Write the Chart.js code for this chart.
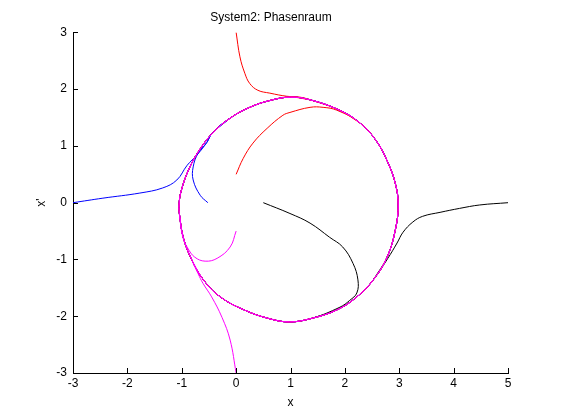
<!DOCTYPE html>
<html>
<head>
<meta charset="utf-8">
<script src="https://cdn.jsdelivr.net/npm/chart.js@4.4.1/dist/chart.umd.min.js"></script>
<style>
html,body{margin:0;padding:0;background:#fff;}
#wrap{width:561px;height:420px;}
</style>
</head>
<body>
<div id="wrap"><canvas id="c" width="561" height="420"></canvas></div>
<script>
// Limit cycle, clockwise
const cycleX = [-1.05,-1.01,-0.86,-0.66,-0.42,-0.11,0.25,0.62,1.00,1.37,1.90,2.27,2.57,2.79,2.93,2.98,2.93,2.78,2.53,2.22,1.85,1.38,0.98,0.60,0.15,-0.29,-0.60,-0.81,-0.97,-1.04];
const cycleY = [-0.04,0.21,0.61,0.95,1.24,1.49,1.68,1.80,1.86,1.81,1.63,1.41,1.10,0.71,0.33,-0.04,-0.47,-0.95,-1.35,-1.66,-1.89,-2.04,-2.10,-2.04,-1.89,-1.66,-1.36,-1.02,-0.62,-0.22];

// Trajectories approaching the cycle
const red1X = [0.00,0.07,0.16,0.25,0.40,0.62,0.93,1.17];
const red1Y = [3.00,2.57,2.28,2.10,1.98,1.93,1.875,1.86];
const red2X = [0.00,0.13,0.31,0.57,0.86,0.99,1.36,1.60,1.85];
const red2Y = [0.50,0.78,1.05,1.31,1.54,1.59,1.68,1.68,1.63];
const blue1X = [-3.00,-2.45,-1.77,-1.35,-1.09,-0.90,-0.72,-0.54,-0.43];
const blue1Y = [0.00,0.08,0.17,0.26,0.40,0.66,0.84,1.06,1.24];
const blue2X = [-0.52,-0.66,-0.79,-0.79,-0.70,-0.54,-0.43];
const blue2Y = [0.00,0.13,0.40,0.63,0.87,1.06,1.24];
const mag1X = [0.00,-0.11,-0.35,-0.57,-0.76,-0.89,-0.98];
const mag1Y = [-0.50,-0.78,-0.98,-1.03,-0.96,-0.80,-0.61];
const mag2X = [0.00,-0.11,-0.26,-0.45,-0.61,-0.70];
const mag2Y = [-3.00,-2.42,-2.02,-1.66,-1.42,-1.25];
const blk1X = [5.00,4.48,4.11,3.75,3.43,3.25,3.07,2.96,2.79];
const blk1Y = [0.00,-0.04,-0.10,-0.17,-0.24,-0.34,-0.52,-0.71,-0.98];
const blk2X = [0.50,0.99,1.36,1.72,1.96,2.15,2.24,2.22,2.09,1.91];
const blk2Y = [0.00,-0.19,-0.36,-0.61,-0.78,-1.07,-1.36,-1.59,-1.72,-1.84];

const xTicks = [-3,-2,-1,0,1,2,3,4,5];
const yTicks = [-3,-2,-1,0,1,2,3];

function traj(xs, ys) {
  const pts = xs.map((x, i) => ({x: x, y: ys[i]}));
  const last = pts[pts.length - 1];
  let best = 0, bd = 1e9;
  for (let i = 0; i < cycleX.length; i++) {
    const d = (cycleX[i]-last.x)**2 + (cycleY[i]-last.y)**2;
    if (d < bd) { bd = d; best = i; }
  }
  const n = cycleX.length;
  for (let k = 1; k <= n + 1; k++) {
    const j = (best + k) % n;
    pts.push({x: cycleX[j], y: cycleY[j]});
  }
  return pts;
}
function ds(xs, ys, color) {
  return {data: traj(xs, ys), borderColor: color, borderWidth: 1, pointRadius: 0,
          showLine: true, tension: 0.4, fill: false};
}

const tickPlugin = {
  id: 'inTicks',
  afterDraw(chart) {
    const ctx = chart.ctx, xs = chart.scales.x, ys = chart.scales.y;
    const a = chart.chartArea;
    ctx.save();
    ctx.strokeStyle = '#000';
    ctx.lineWidth = 1;
    ctx.beginPath();
    xTicks.forEach(v => {
      const p = Math.round(xs.getPixelForValue(v)) + 0.5;
      ctx.moveTo(p, a.bottom); ctx.lineTo(p, a.bottom - 5);
    });
    yTicks.forEach(v => {
      const p = Math.round(ys.getPixelForValue(v)) + 0.5;
      ctx.moveTo(a.left, p); ctx.lineTo(a.left + 5, p);
    });
    ctx.stroke();
    ctx.restore();
  }
};

const font = {family: '"Liberation Sans", Arial, sans-serif', size: 12, weight: 'normal'};

new Chart(document.getElementById('c'), {
  type: 'scatter',
  data: {
    datasets: [
      ds(mag1X, mag1Y, '#ff00ff'),
      ds(mag2X, mag2Y, '#ff00ff'),
      ds(red1X, red1Y, '#ff0000'),
      ds(red2X, red2Y, '#ff0000'),
      ds(blue1X, blue1Y, '#0000ff'),
      ds(blue2X, blue2Y, '#0000ff'),
      ds(blk1X, blk1Y, '#000000'),
      ds(blk2X, blk2Y, '#000000')
    ]
  },
  options: {
    responsive: false,
    animation: false,
    layout: {padding: {left: 34, right: 53, top: 0, bottom: 0}},
    plugins: {
      legend: {display: false},
      tooltip: {enabled: false},
      title: {display: true, text: 'System2: Phasenraum', color: '#000', font: font,
              padding: {top: 10, bottom: 8}}
    },
    scales: {
      x: {
        type: 'linear', min: -3, max: 5,
        afterBuildTicks: s => { s.ticks = xTicks.map(v => ({value: v})); },
        afterFit: s => { s.height = 47; },
        ticks: {color: '#000', font: font, padding: 3, maxRotation: 0},
        grid: {drawOnChartArea: false, drawTicks: false, color: '#000'},
        border: {display: true, color: '#000', width: 1},
        title: {display: true, text: 'x', color: '#000', font: font, padding: {top: 0, bottom: 10}}
      },
      y: {
        type: 'linear', min: -3, max: 3,
        afterBuildTicks: s => { s.ticks = yTicks.map(v => ({value: v})); },
        afterFit: s => { s.width = 39; },
        ticks: {color: '#000', font: font, padding: 6},
        grid: {drawOnChartArea: false, drawTicks: false, color: '#000'},
        border: {display: true, color: '#000', width: 1},
        title: {display: true, text: "x'", color: '#000', font: font, padding: {top: 0, bottom: 0}}
      }
    }
  },
  plugins: [tickPlugin]
});
</script>
</body>
</html>
